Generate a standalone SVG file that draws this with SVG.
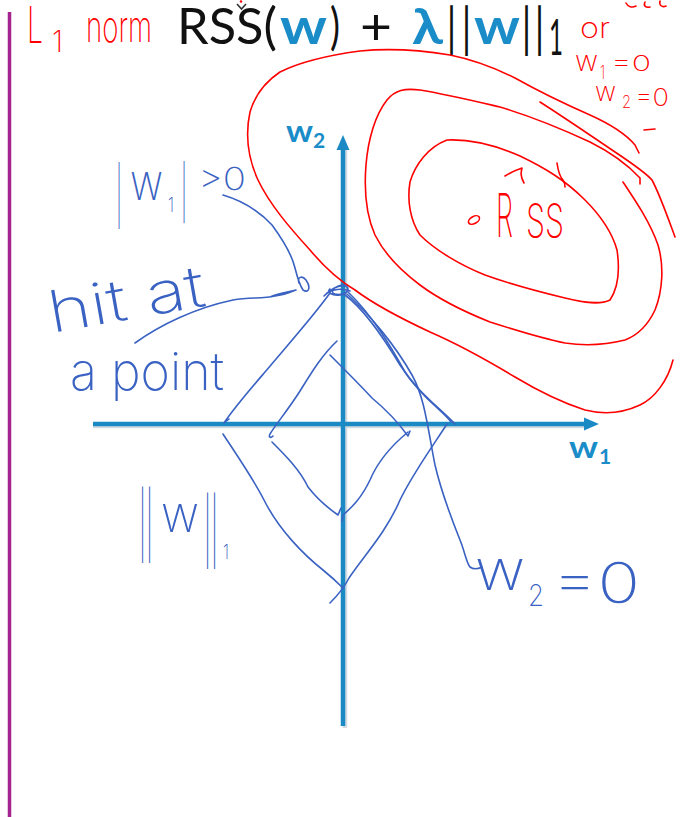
<svg xmlns="http://www.w3.org/2000/svg" width="698" height="817" viewBox="0 0 698 817">
<style>
.ink-r{fill:none;stroke:#ff0000;stroke-width:1.6;stroke-linecap:round;stroke-linejoin:round}
.ink-b{fill:none;stroke:#3a62c2;stroke-width:1.6;stroke-linecap:round;stroke-linejoin:round}
.hw-r{font-family:Inter,"DejaVu Sans",sans-serif;font-weight:200;fill:#ff0000}
.hw-b{font-family:Inter,"DejaVu Sans",sans-serif;font-weight:200;fill:#3a62c2}
.title{font-family:Lato,"Open Sans",sans-serif;font-size:50px;fill:#111}
.blue{fill:#1a8cc8;font-weight:bold}
.bar{font-family:Lato,"Open Sans",sans-serif;font-size:54px;font-weight:bold;fill:#111}
.axis{stroke:#1b8ac4;stroke-width:4.5;fill:none}
.shadow{stroke:#d3dbe0;stroke-width:4.5;fill:none}
.axlbl{font-family:Lato,"Open Sans",sans-serif;font-weight:bold;fill:#1a8cc8}
</style>
<rect width="698" height="817" fill="#ffffff"/>
<line x1="9.5" y1="12" x2="9.5" y2="817" stroke="#a5238f" stroke-width="3.5"/>

<g id="title">
<text class="title" x="177" y="44" textLength="100" lengthAdjust="spacingAndGlyphs">RSS(</text>
<text class="title blue" x="280" y="44" textLength="47" lengthAdjust="spacingAndGlyphs">w</text>
<text class="title" x="330" y="44" textLength="10" lengthAdjust="spacingAndGlyphs">)</text>
<text class="title" x="360" y="44" textLength="32" lengthAdjust="spacingAndGlyphs">+</text>
<text class="title blue" x="412" y="44" textLength="31" lengthAdjust="spacingAndGlyphs">λ</text>
<text class="bar" x="448" y="47" textLength="7" lengthAdjust="spacingAndGlyphs">|</text>
<text class="bar" x="463" y="47" textLength="7" lengthAdjust="spacingAndGlyphs">|</text>
<text class="title blue" x="474" y="44" textLength="46" lengthAdjust="spacingAndGlyphs">w</text>
<text class="bar" x="523" y="47" textLength="7" lengthAdjust="spacingAndGlyphs">|</text>
<text class="bar" x="536" y="47" textLength="7" lengthAdjust="spacingAndGlyphs">|</text>
<text class="title" x="549" y="55" font-size="30" textLength="14" lengthAdjust="spacingAndGlyphs">1</text>
<path d="M237,4 L241.5,9 L246,4" fill="none" stroke="#333" stroke-width="1.6"/>
<circle cx="241" cy="1.5" r="1.2" fill="#ff0000"/>
</g>

<g id="axes">
<line class="shadow" x1="345" y1="728" x2="345" y2="150"/>
<line class="shadow" x1="93" y1="426" x2="586" y2="426"/>
<line class="axis" x1="343" y1="726" x2="343" y2="148"/>
<polygon points="343,135 336.5,150 349.5,150" fill="#1b8ac4"/>
<line class="axis" x1="93" y1="424" x2="586" y2="424"/>
<polygon points="599,424 584,417.5 584,430.5" fill="#1b8ac4"/>
<text class="axlbl" x="286" y="142" font-size="30" textLength="27" lengthAdjust="spacingAndGlyphs">w</text>
<text class="axlbl" x="313" y="148" font-size="21">2</text>
<text class="axlbl" x="569" y="458" font-size="30" textLength="29" lengthAdjust="spacingAndGlyphs">w</text>
<text class="axlbl" x="599" y="464" font-size="21">1</text>
</g>

<g id="rss-contours">
<path class="ink-r" d="M673,360 C668,380 655,398 640,405 C625,412 605,415 585,410 C560,402 540,392 515,377 C490,362 460,345 430,332 C400,318 375,305 355,290 C338,280 325,268 310,250 C290,228 270,205 258,180 C248,158 245,135 250,112 C255,95 265,82 280,72 C300,62 330,55 360,51 C390,48 420,50 450,55 C475,60 495,68 515,78 C540,92 565,104 590,115 C610,124 625,133 635,145 L639,153"/>
<path class="ink-r" d="M540,102 C565,118 590,135 615,152 C630,162 645,172 652,180 C660,195 668,218 675,237"/>
<path class="ink-r" d="M623,182 C635,200 650,222 658,245 C664,265 663,290 655,310 C648,325 638,335 625,340 C605,345 585,346 565,343 C540,338 515,330 490,322 C465,312 440,300 420,285 C400,270 385,255 375,235 C366,215 364,190 366,165 C368,140 375,115 387,100 C395,90 405,88 420,90 C445,94 470,100 500,107 C530,116 560,128 590,142 C610,152 628,165 640,178 L640,184"/>
<path class="ink-r" d="M447,140 C470,139 495,145 520,156 C545,168 565,180 585,200 C600,215 612,232 617,250 C620,270 618,288 610,300 C600,305 585,303 565,298 C540,292 510,284 485,275 C460,265 435,250 420,235 C410,220 407,200 410,182 C415,165 428,147 447,140 Z"/>
<path class="ink-r" d="M557,163 C558,170 559,176 563,180 C565,183 565,185 565,187"/>
</g>

<g id="rss-label">
<ellipse cx="474" cy="220" rx="6" ry="3.5" transform="rotate(-30 474 220)" class="ink-r"/>
<path class="ink-r" d="M505,176 C510,173 516,170 522,168 C521,172 520,176 524,183"/>
<text class="hw-r" x="496" y="237" font-size="60" textLength="17" lengthAdjust="spacingAndGlyphs">R</text>
<text class="hw-r" x="526" y="237" font-size="46" textLength="38" lengthAdjust="spacingAndGlyphs">SS</text>
</g>

<g id="l1-norm-label">
<text class="hw-r" x="27" y="43" font-size="50" textLength="16" lengthAdjust="spacingAndGlyphs">L</text>
<text class="hw-r" x="52" y="52" font-size="30" textLength="11" lengthAdjust="spacingAndGlyphs">1</text>
<text class="hw-r" x="86" y="42" font-size="44" textLength="66" lengthAdjust="spacingAndGlyphs">norm</text>
</g>

<g id="or-note">
<text class="hw-r" x="580" y="38" font-size="28" textLength="30" lengthAdjust="spacingAndGlyphs">or</text>
<text class="hw-r" x="575" y="71" font-size="28" textLength="23" lengthAdjust="spacingAndGlyphs">w</text>
<text class="hw-r" x="600" y="79" font-size="18" textLength="5" lengthAdjust="spacingAndGlyphs">1</text>
<text class="hw-r" x="611" y="71" font-size="22" textLength="40" lengthAdjust="spacingAndGlyphs">=0</text>
<text class="hw-r" x="595" y="101" font-size="26" textLength="21" lengthAdjust="spacingAndGlyphs">w</text>
<text class="hw-r" x="622" y="108" font-size="18" textLength="9" lengthAdjust="spacingAndGlyphs">2</text>
<text class="hw-r" x="635" y="106" font-size="24" textLength="34" lengthAdjust="spacingAndGlyphs">=0</text>
<path class="ink-r" d="M644,130 L655,129"/>
<path class="ink-r" d="M626,3 C628,7 632,8 636,6 M645,2 C643,6 646,8 650,7 M660,1 C659,5 662,8 666,6"/>
</g>

<g id="diamonds">
<path class="ink-b" d="M324,296 C330,290 338,284 346,286 C352,290 344,296 335,294 C328,292 336,285 344,285 C350,287 348,294 340,295 C332,296 326,292 330,289 M327,293 C334,289 342,288 350,291"/>
<path class="ink-b" d="M330,293 C312,318 285,348 265,372 C247,393 234,408 224,423 L229,419"/>
<path class="ink-b" d="M345,295 C365,310 385,340 400,365 C418,393 440,408 455,424"/>
<path class="ink-b" d="M348,292 C372,315 390,345 405,372 C422,398 442,410 451,422"/>
<path class="ink-b" d="M223,434 C240,460 254,480 264,500 C279,530 304,555 323,570 C334,579 340,585 343,588"/>
<path class="ink-b" d="M447,424 C430,450 412,475 400,500 C386,533 362,558 349,578 C344,588 336,597 330,603"/>
<path class="ink-b" d="M337,341 C321,356 310,375 300,391 C288,410 276,424 270,434 C268,438 271,438 273,436"/>
<path class="ink-b" d="M330,355 C345,370 360,385 372,398 C389,412 400,425 408,436 L410,431"/>
<path class="ink-b" d="M272,442 C285,455 300,470 308,487 C318,500 328,508 338,515 L341,508"/>
<path class="ink-b" d="M408,432 C391,446 378,461 370,480 C361,499 351,508 343,515 L342,521"/>
</g>

<g id="connectors">
<path class="ink-b" d="M347,294 C370,315 395,345 412,375 C425,398 428,430 435,465 C442,495 452,520 460,540 C465,552 466,562 470,567 C474,570 478,569 482,567"/>
<path class="ink-b" d="M223,195 C240,200 258,210 272,225 C283,240 292,255 295,268 C297,276 299,284 303,290 C309,294 311,287 306,280 C302,275 297,277 299,283"/>
<path class="ink-b" d="M135,343 C160,325 195,308 233,300 C250,297 262,299 275,296 C285,295 291,292 296,290 M270,297 C280,293 289,292 296,290"/>
</g>

<g id="w1-note">
<text class="hw-b" x="116" y="216" font-size="56" textLength="6" lengthAdjust="spacingAndGlyphs">|</text>
<text class="hw-b" x="130" y="200" font-size="50" textLength="33" lengthAdjust="spacingAndGlyphs">w</text>
<text class="hw-b" x="168" y="212" font-size="20" textLength="6" lengthAdjust="spacingAndGlyphs">1</text>
<text class="hw-b" x="181" y="211" font-size="52" textLength="6" lengthAdjust="spacingAndGlyphs">|</text>
<text class="hw-b" x="198" y="190" font-size="32" textLength="48" lengthAdjust="spacingAndGlyphs">&gt;0</text>
</g>

<g id="hit-note">
<text class="hw-b" x="52" y="333" font-size="58" textLength="158" lengthAdjust="spacingAndGlyphs" transform="rotate(-10 52 333)">hit at</text>
<text class="hw-b" x="70" y="390" font-size="52" textLength="154" lengthAdjust="spacingAndGlyphs">a point</text>
</g>

<g id="norm-note">
<text class="hw-b" x="139" y="548" font-size="64" textLength="14" lengthAdjust="spacingAndGlyphs">||</text>
<text class="hw-b" x="161" y="532" font-size="50" textLength="38" lengthAdjust="spacingAndGlyphs">w</text>
<text class="hw-b" x="204" y="554" font-size="64" textLength="14" lengthAdjust="spacingAndGlyphs">||</text>
<text class="hw-b" x="223" y="559" font-size="20" textLength="6" lengthAdjust="spacingAndGlyphs">1</text>
</g>

<g id="w2-note">
<text class="hw-b" x="475" y="590" font-size="56" textLength="50" lengthAdjust="spacingAndGlyphs">w</text>
<text class="hw-b" x="528" y="606" font-size="30" textLength="16" lengthAdjust="spacingAndGlyphs">2</text>
<text class="hw-b" x="552" y="603" font-size="56" textLength="88" lengthAdjust="spacingAndGlyphs">=0</text>
</g>
</svg>
